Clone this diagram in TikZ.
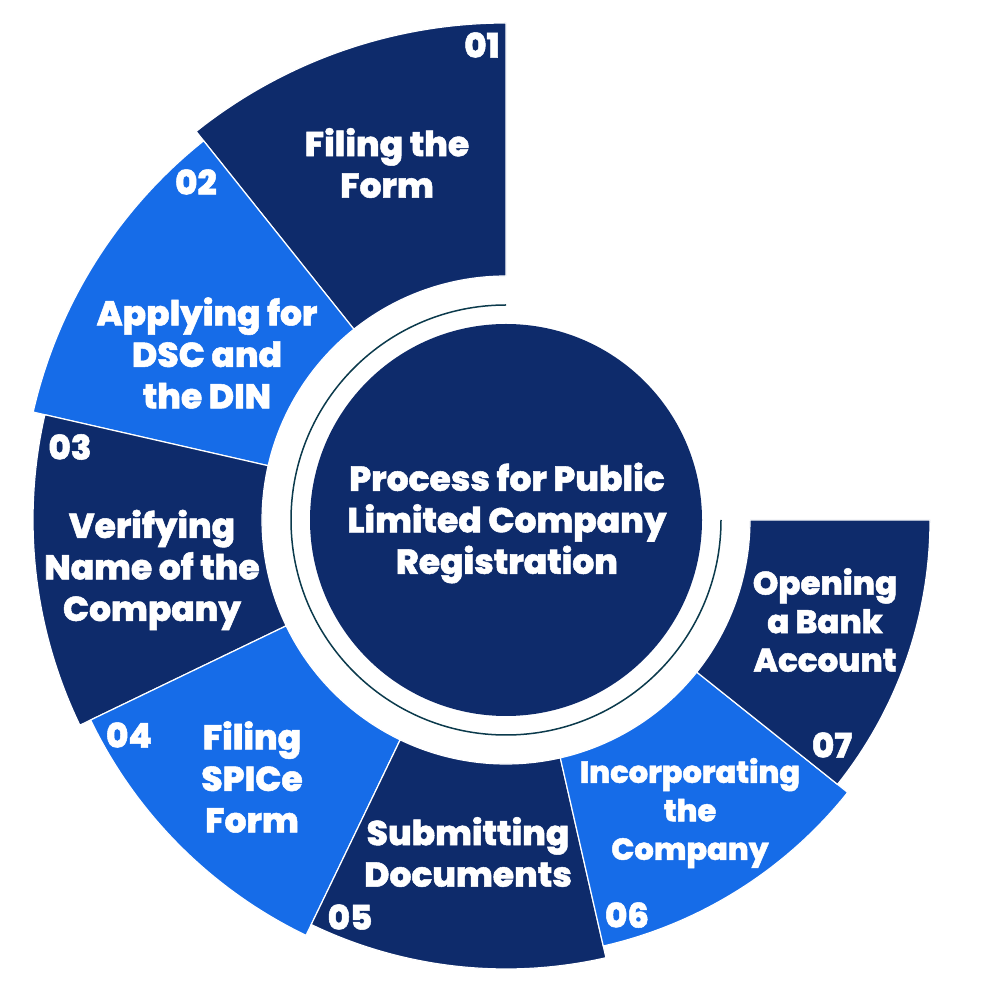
\documentclass[tikz,border=0pt]{standalone}
\usepackage{fontspec}
\setmainfont{Poppins}
\newfontfamily\popx{Poppins ExtraBold}[FakeBold=1.5]
\definecolor{navy}{HTML}{0E2B6B}
\definecolor{sky}{HTML}{166CE8}
\definecolor{ringcol}{HTML}{0B3A4C}
\tikzset{
  lbl/.style={text=white, align=center, inner sep=0pt, font=\fontsize{34.5}{41.5}\popx},
  lblsix/.style={lbl, font=\fontsize{30.5}{38.5}\popx},
  lblseven/.style={lbl, font=\fontsize{32.5}{38.5}\popx},
  num/.style={text=white, inner sep=0pt, font=\fontsize{34}{35}\popx},
  seg/.style={draw=white, line width=1.2pt}
}
\begin{document}
\begin{tikzpicture}[x=1pt,y=1pt]
\useasboundingbox (0,0) rectangle (1000,993);
\fill[white] (0,0) rectangle (1000,993);
\begin{scope}[shift={(506,473)}]
  \foreach \a/\b/\R/\c in {90/128.57/497/navy, 128.57/167.14/485/sky, 167.14/205.71/473/navy, 205.71/244.29/461/sky, 244.29/282.86/449/navy, 282.86/321.43/437/sky, 321.43/360/424/navy}{
    \fill[\c, seg] (\a:\R pt) arc[start angle=\a, end angle=\b, radius=\R pt] -- (\b:244pt) arc[start angle=\b, end angle=\a, radius=244pt] -- cycle;
  }
  \draw[ringcol, line width=1.5pt] (90:215pt) arc[start angle=90, end angle=360, radius=215pt];
  \fill[navy] (0,0) circle[radius=196pt];
\end{scope}
\node[lbl] (center) at (507,470) {Process for Public\\Limited Company\\Registration};
\node[lbl] (t1) at (387,830) {Filing the\\Form};
\node[num] (n1) at (482,948) {01};
\node[num] (n2) at (196,811) {02};
\node[lbl] (t2) at (207,640) {Applying for\\DSC and\\the DIN};
\node[num] (n3) at (70,546) {03};
\node[lbl] (t3) at (152,423) {Verifying\\Name of the\\Company};
\node[num] (n4) at (129,258) {04};
\node[lbl] (t4) at (252,216) {Filing\\SPICe\\Form};
\node[num] (n5) at (350,76) {05};
\node[lbl] (t5) at (468,141) {Submitting\\Documents};
\node[num] (n6) at (627,78) {06};
\node[lblsix] (t6) at (690,180) {Incorporating\\the\\Company};
\node[num] (n7) at (832,248) {07};
\node[lblseven] (t7) at (825,373) {Opening\\a Bank\\Account};
\end{tikzpicture}
\end{document}
